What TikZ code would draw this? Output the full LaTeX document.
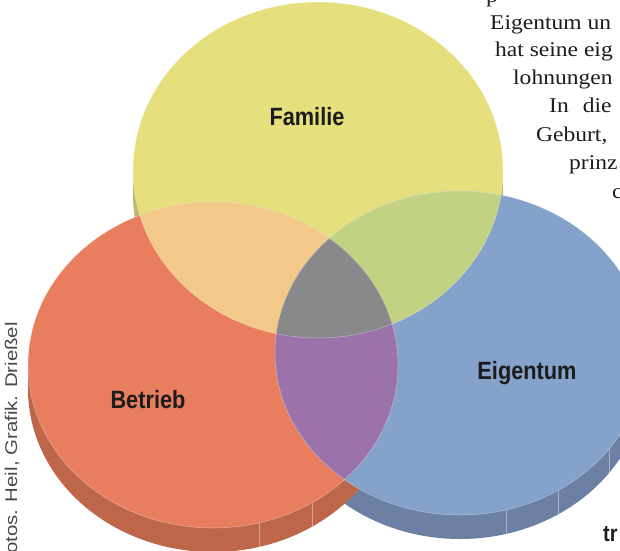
\documentclass[tikz,border=0pt]{standalone}
\usepackage{fontspec}
\newfontfamily\labelfont[FakeStretch=0.87]{Liberation Sans}
\newfontfamily\creditfont[FakeStretch=1.2]{Liberation Sans}
\newfontfamily\pagefont[FakeStretch=1.12]{Liberation Serif}

\begin{document}
\begin{tikzpicture}[x=1pt,y=-1pt]

\def\rx{185pt}
\def\dep{24pt}

\definecolor{famcol}{HTML}{E5E07D}
\definecolor{betcol}{HTML}{E87E5E}
\definecolor{eigcol}{HTML}{85A2CB}
\definecolor{famside}{HTML}{BDB86A}
\definecolor{betside}{HTML}{BE664A}
\definecolor{eigside}{HTML}{6C80A4}
\definecolor{peach}{HTML}{F3C98A}
\definecolor{lime}{HTML}{C1D283}
\definecolor{plum}{HTML}{9B72A9}
\definecolor{mid}{HTML}{89898B}
\definecolor{ink}{HTML}{1C1C1C}

\tikzset{circname/.style = {font=\labelfont\bfseries\fontsize{25}{30}\selectfont, text=ink, inner sep=0pt, anchor=base}}
\tikzset{pagetext/.style = {font=\pagefont\fontsize{21}{26}\selectfont, text=ink, inner sep=0pt, anchor=base west}}
\tikzset{facet/.style = {white, opacity=0.4, line width=0.5pt}}

\useasboundingbox (0,0) rectangle (620,550);

\coordinate (F) at (318,170);
\coordinate (B) at (213,365);
\coordinate (E) at (460,353);

\def\famshape{(F) ellipse [x radius=\rx, y radius=168pt]}
\def\betshape{(B) ellipse [x radius=\rx, y radius=163pt]}
\def\eigshape{(E) ellipse [x radius=\rx, y radius=162pt]}

% sides
\fill[famside] ([yshift=-\dep]F) ellipse [x radius=\rx, y radius=168pt];
\fill[famside] ([xshift=-\rx]F) rectangle ([xshift=\rx,yshift=-\dep]F);

\fill[eigside] ([yshift=-\dep]E) ellipse [x radius=\rx, y radius=162pt];
\fill[eigside] ([xshift=-\rx]E) rectangle ([xshift=\rx,yshift=-\dep]E);

\fill[betside] ([yshift=-\dep]B) ellipse [x radius=\rx, y radius=163pt];
\fill[betside] ([xshift=-\rx]B) rectangle ([xshift=\rx,yshift=-\dep]B);

\draw[facet] (259,523) -- (259,547);
\draw[facet] (312,503) -- (312,527);
\draw[facet] (506,510) -- (506,534);
\draw[facet] (558,490) -- (558,514);
\draw[facet] (609,449) -- (609,473);

% faces
\fill[famcol] \famshape;
\fill[betcol] \betshape;
\fill[eigcol] \eigshape;

% overlaps
\begin{scope}
  \clip \famshape;
  \fill[peach] \betshape;
  \fill[lime] \eigshape;
\end{scope}
\begin{scope}
  \clip \betshape;
  \fill[plum] \eigshape;
  \clip \eigshape;
  \fill[mid] \famshape;
\end{scope}

\draw[facet] \famshape;
\draw[facet] \betshape;
\draw[facet] \eigshape;

% names
\node[circname] (fam) at (307,125) {Familie};
\node[circname] (eig) at (527,379) {Eigentum};
\node[circname] (bet) at (148,408) {Betrieb};

% page text
\node[pagetext] (t0) at (486,2) {p};
\node[pagetext] (t1) at (490,29) {Eigentum un};
\node[pagetext] (t2) at (495,56) {hat seine eig};
\node[pagetext] (t3) at (513,84) {lohnungen};
\node[pagetext] (t4) at (549,112) {In\hspace{14pt}die};
\node[pagetext] (t5) at (536,141) {Geburt,};
\node[pagetext] (t6) at (569,169) {prinz};
\node[pagetext] (t7) at (612,198) {c};

\node[font=\labelfont\bfseries\fontsize{23}{28}\selectfont, text=ink, inner sep=0pt, anchor=base west] (t8) at (603,541) {tr};

\node[font=\creditfont\fontsize{17}{20}\selectfont, text=ink!80, inner sep=0pt, rotate=90, anchor=base east] (credit) at (17,322) {Fotos. Heil, Grafik. Drießel};

\end{tikzpicture}
\end{document}
